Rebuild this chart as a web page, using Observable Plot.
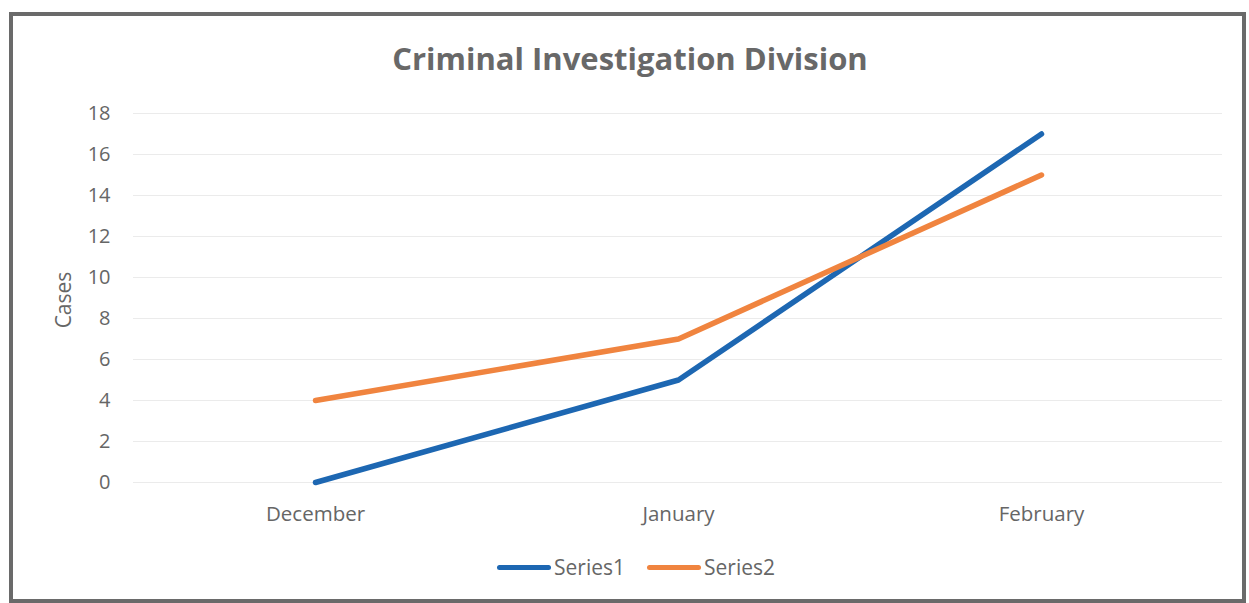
<!DOCTYPE html>
<html>
<head>
<meta charset="utf-8">
<script src="https://cdn.jsdelivr.net/npm/d3@7"></script>
<script src="https://cdn.jsdelivr.net/npm/@observablehq/plot@0.6"></script>
<style>
  html, body { margin: 0; padding: 0; background: #fff; }
  #wrap { position: relative; width: 1249px; height: 603px; overflow: hidden; font-family: "Open Sans", Lato, sans-serif; }
  #frame { position: absolute; left: 9px; top: 12px; width: 1229px; height: 583px; border: 4px solid #6a6a6a; box-sizing: content-box; pointer-events: none; }
  #title { position: absolute; left: 0; width: 1260px; top: 37px; text-align: center; font-size: 31px; font-weight: bold; color: #686868; }
  #ylabel { position: absolute; left: 63px; top: 300px; transform: translate(-50%, -50%) rotate(-90deg); font-size: 21px; color: #666; white-space: nowrap; }
  #legend { position: absolute; top: 553px; left: 0; width: 1272px; display: flex; justify-content: center; gap: 22px; font-size: 21px; color: #666; }
  .item { display: flex; align-items: center; }
  .swatch { width: 54px; height: 5px; border-radius: 3px; margin-right: 3px; }
  #chart { position: absolute; left: 0; top: 0; }
</style>
</head>
<body>
<div id="wrap">
  <div id="chart"></div>
  <div id="title"></div>
  <div id="ylabel"></div>
  <div id="legend"></div>
  <div id="frame"></div>
</div>
<script>
const titleText = "Criminal Investigation Division";
const yLabel = "Cases";
const months = ["December", "January", "February"];
const series1 = [0, 5, 17];
const series2 = [4, 7, 15];
const seriesNames = ["Series1", "Series2"];
const seriesColors = ["#1d67b2", "#f0843f"];
const yTicks = [0, 2, 4, 6, 8, 10, 12, 14, 16, 18];

const data = [];
months.forEach((m, i) => {
  data.push({month: m, value: series1[i], series: seriesNames[0]});
  data.push({month: m, value: series2[i], series: seriesNames[1]});
});

const chart = Plot.plot({
  width: 1249,
  height: 603,
  marginTop: 113,
  marginBottom: 121,
  marginLeft: 133,
  marginRight: 27,
  style: {fontFamily: '"Open Sans", Lato, sans-serif', color: "#666", background: "transparent"},
  x: {type: "point", domain: months, padding: 0.5},
  y: {domain: [0, 18]},
  color: {domain: seriesNames, range: seriesColors},
  marks: [
    Plot.gridY(yTicks, {stroke: "#ebebeb", strokeOpacity: 1, strokeWidth: 1}),
    Plot.axisY(yTicks, {tickSize: 0, tickPadding: 23, fontSize: 20, label: null, fill: "#666"}),
    Plot.axisX({tickSize: 0, tickPadding: 24, fontSize: 20.5, label: null, fill: "#666"}),
    Plot.line(data, {x: "month", y: "value", z: "series", stroke: "series", strokeWidth: 5.5, strokeLinecap: "round", strokeLinejoin: "round"})
  ]
});
document.getElementById("chart").appendChild(chart);
document.getElementById("title").textContent = titleText;
document.getElementById("ylabel").textContent = yLabel;
const legend = document.getElementById("legend");
seriesNames.forEach((name, i) => {
  const item = document.createElement("div");
  item.className = "item";
  const sw = document.createElement("div");
  sw.className = "swatch";
  sw.style.background = seriesColors[i];
  const label = document.createElement("span");
  label.textContent = name;
  item.appendChild(sw);
  item.appendChild(label);
  legend.appendChild(item);
});
</script>
</body>
</html>
